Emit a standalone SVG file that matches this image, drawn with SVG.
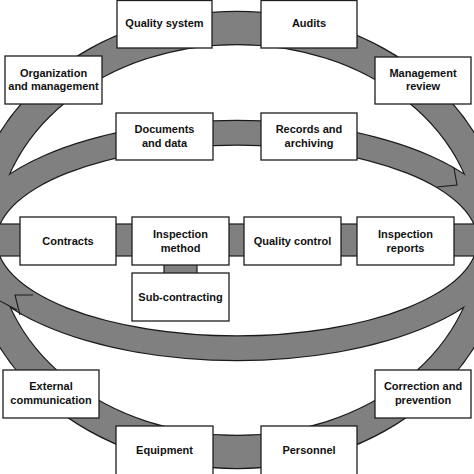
<svg xmlns="http://www.w3.org/2000/svg" width="474" height="474" viewBox="0 0 474 474">
<style>
.band{fill:#808080;fill-rule:evenodd}
.bandline{fill:#808080;fill-rule:evenodd;stroke:#1a1a1a;stroke-width:2.4}
.cut{fill:none;stroke:#1a1a1a;stroke-width:1.1}
.box{fill:#ffffff;stroke:#1e1e1e;stroke-width:1.3}
.lbl{font-family:"Liberation Sans",Arial,sans-serif;font-weight:bold;font-size:11px;fill:#111;text-anchor:middle}
</style>
<defs>
<path id="outerRing" d="M -31,240 a268,228 0 1 0 536 0 a268,228 0 1 0 -536 0 Z M -5,240 a242,196 0 1 0 484 0 a242,196 0 1 0 -484 0 Z"/>
<path id="innerRing" d="M -35,240.5 a272,119.5 0 1 0 544 0 a272,119.5 0 1 0 -544 0 Z M -4,240.5 a241,96 0 1 0 482 0 a241,96 0 1 0 -482 0 Z"/>
</defs>
<rect x="0" y="0" width="474" height="474" fill="#ffffff"/>
<g id="connectors">
<use href="#outerRing" class="bandline"/>
<use href="#innerRing" class="bandline"/>
<use href="#outerRing" class="band"/>
<use href="#innerRing" class="band"/>
<polyline class="cut" points="454,168 457,185 437,187"/>
<polyline class="cut" points="33,295 15,295 20,315"/>
<line class="cut" x1="0" y1="301" x2="17" y2="310"/>
<rect x="-2" y="224" width="478" height="32" fill="#808080" stroke="#1a1a1a" stroke-width="1.2"/>
<rect x="164" y="264" width="33" height="10" fill="#808080" stroke="#1a1a1a" stroke-width="1.2"/>
</g>
<g id="quality-system"><rect class="box" x="117" y="0.5" width="95" height="47.5"/><text class="lbl" x="164.5" y="27">Quality system</text></g>
<g id="audits"><rect class="box" x="261" y="0.5" width="96" height="47.5"/><text class="lbl" x="309" y="27">Audits</text></g>
<g id="organization"><rect class="box" x="5" y="56" width="97" height="48"/><text class="lbl" x="53.5" y="76.5">Organization</text><text class="lbl" x="53.5" y="90">and management</text></g>
<g id="management-review"><rect class="box" x="375" y="57" width="96" height="47"/><text class="lbl" x="423" y="76.5">Management</text><text class="lbl" x="423" y="90">review</text></g>
<g id="documents"><rect class="box" x="116" y="113" width="97" height="47"/><text class="lbl" x="164.5" y="133">Documents</text><text class="lbl" x="164.5" y="146.5">and data</text></g>
<g id="records"><rect class="box" x="261" y="113" width="96" height="47"/><text class="lbl" x="309" y="133">Records and</text><text class="lbl" x="309" y="146.5">archiving</text></g>
<g id="contracts"><rect class="box" x="20" y="217" width="96" height="48"/><text class="lbl" x="68" y="245">Contracts</text></g>
<g id="inspection-method"><rect class="box" x="132" y="217" width="97" height="48"/><text class="lbl" x="180.5" y="238">Inspection</text><text class="lbl" x="180.5" y="251.5">method</text></g>
<g id="quality-control"><rect class="box" x="244" y="217" width="97" height="48"/><text class="lbl" x="292.5" y="245">Quality control</text></g>
<g id="inspection-reports"><rect class="box" x="357" y="217" width="97" height="48"/><text class="lbl" x="405.5" y="238">Inspection</text><text class="lbl" x="405.5" y="251.5">reports</text></g>
<g id="sub-contracting"><rect class="box" x="132" y="273" width="97" height="48"/><text class="lbl" x="180.5" y="301">Sub-contracting</text></g>
<g id="external-communication"><rect class="box" x="3" y="370" width="96" height="48"/><text class="lbl" x="51" y="390">External</text><text class="lbl" x="51" y="403.5">communication</text></g>
<g id="correction"><rect class="box" x="375" y="370" width="96" height="48"/><text class="lbl" x="423" y="390">Correction and</text><text class="lbl" x="423" y="403.5">prevention</text></g>
<g id="equipment"><rect class="box" x="116" y="426" width="97" height="50"/><text class="lbl" x="164.5" y="453.5">Equipment</text></g>
<g id="personnel"><rect class="box" x="261" y="426" width="96" height="50"/><text class="lbl" x="309" y="453.5">Personnel</text></g>
</svg>
